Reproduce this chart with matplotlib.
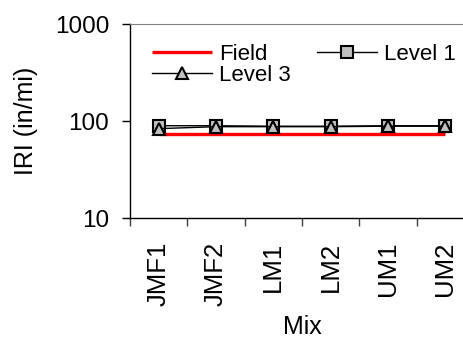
import matplotlib
matplotlib.use("Agg")
import matplotlib.pyplot as plt
from matplotlib.ticker import FixedLocator, NullLocator, NullFormatter, FixedFormatter
import numpy as np

plt.rcParams['font.family'] = ['Liberation Sans', 'DejaVu Sans']

mixes = ["JMF1", "JMF2", "LM1", "LM2", "UM1", "UM2"]
field = [74, 74, 74, 74, 74, 74]
level1 = [90, 90, 89, 89, 90, 90]
level3 = [84, 88, 88, 88, 89, 89]
y_ticks = [10, 100, 1000]
y_tick_labels = ["10", "100", "1000"]

W, H = 464, 341
fig = plt.figure(figsize=(W / 100, H / 100), dpi=100)
left, right = 130 / W, 474 / W
bottom, top = 1 - 218.3 / H, 1 - 24.3 / H
ax = fig.add_axes([left, bottom, right - left, top - bottom])

x = np.arange(len(mixes))
l_field, = ax.plot(x, field, color='#ff0000', lw=2.4, label='Field', zorder=3,
                   solid_capstyle='butt')
l_1, = ax.plot(x, level1, color='black', lw=1.0, marker='s', markersize=8.5,
               markerfacecolor='#c0c0c0', markeredgecolor='black', markeredgewidth=1.5,
               label='Level 1', zorder=4)
l_3, = ax.plot(x, level3, color='black', lw=1.0, marker='^', markersize=9,
               markerfacecolor='#c0c0c0', markeredgecolor='black', markeredgewidth=1.5,
               label='Level 3', zorder=5)

ax.set_yscale('log')
ax.set_ylim(10, 1000)
ax.set_xlim(-0.5, len(mixes) - 0.5)
ax.yaxis.set_major_locator(FixedLocator(y_ticks))
ax.yaxis.set_major_formatter(FixedFormatter(y_tick_labels))
ax.yaxis.set_minor_locator(NullLocator())
ax.yaxis.set_minor_formatter(NullFormatter())

ax.set_xticks(np.arange(-0.5, len(mixes), 1.0))
ax.set_xticklabels([])
ax.set_xticks(x, minor=True)
ax.set_xticklabels(mixes, minor=True, rotation=90, fontsize=18.5)
ax.tick_params(axis='x', which='major', direction='out', length=6, width=1, colors='#404040')
ax.tick_params(axis='x', which='minor', length=0, pad=17)
ax.tick_params(axis='y', which='major', direction='out', length=6, width=1, pad=9,
               labelsize=17.5)

for s in ['left', 'bottom']:
    ax.spines[s].set_color('black')
    ax.spines[s].set_linewidth(1.0)
ax.spines['top'].set_color('#808080')
ax.spines['right'].set_color('#808080')

ax.set_ylabel('IRI (in/mi)', fontsize=18, labelpad=12)
ax.set_xlabel('Mix', fontsize=18, labelpad=6)

leg = ax.legend(handles=[l_field, l_3, l_1], loc='upper left',
                bbox_to_anchor=(152 / W, 1 - 44 / H),
                bbox_transform=fig.transFigure, ncol=2, frameon=False,
                fontsize=16, handlelength=2.7, handletextpad=0.3,
                columnspacing=1.2, labelspacing=0.0, borderpad=0, borderaxespad=0)

fig.savefig('out.png', dpi=100)
